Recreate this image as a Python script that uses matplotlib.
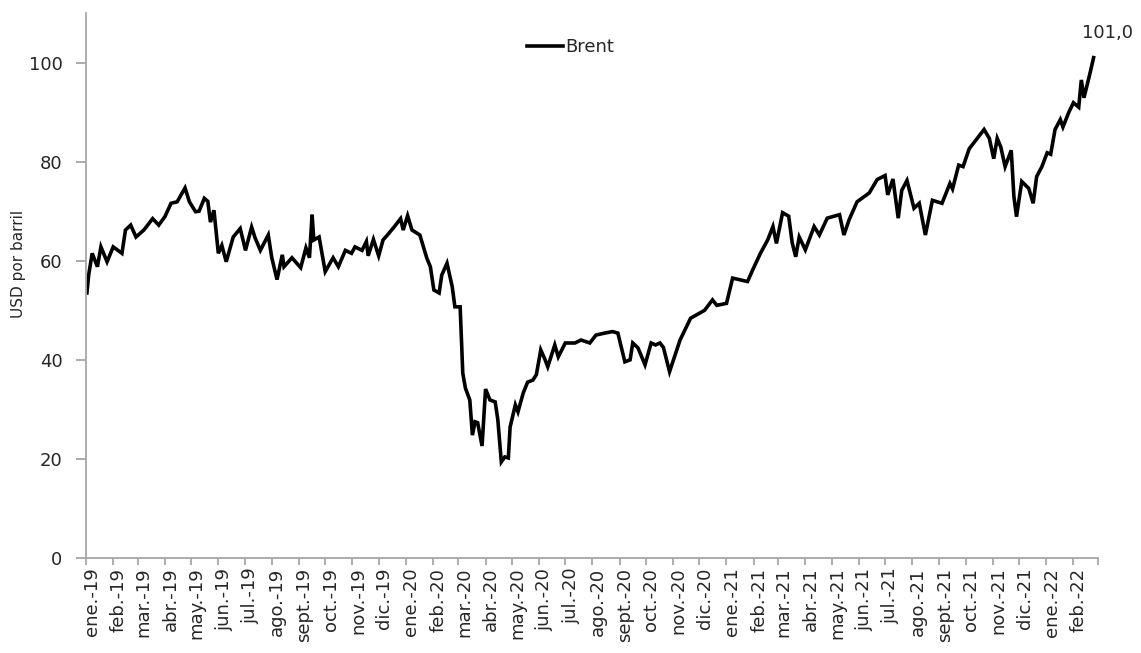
import matplotlib
matplotlib.use("Agg")
import matplotlib.pyplot as plt
from matplotlib.transforms import ScaledTranslation
import pandas as pd

# precio Brent (USD por barril)
fechas_2019 = ["2019-01-02", "2019-01-04", "2019-01-08", "2019-01-14", "2019-01-18", "2019-01-25",
               "2019-02-01", "2019-02-11", "2019-02-15", "2019-02-21", "2019-02-27", "2019-03-08",
               "2019-03-15", "2019-03-18", "2019-03-25", "2019-04-01", "2019-04-08", "2019-04-15",
               "2019-04-24", "2019-04-29", "2019-05-06", "2019-05-10", "2019-05-16", "2019-05-20",
               "2019-05-23", "2019-05-27", "2019-06-01", "2019-06-05", "2019-06-10", "2019-06-18",
               "2019-06-26", "2019-07-02", "2019-07-09", "2019-07-13", "2019-07-19", "2019-07-28",
               "2019-08-01", "2019-08-07", "2019-08-13", "2019-08-15", "2019-08-24", "2019-09-03",
               "2019-09-09", "2019-09-13", "2019-09-16", "2019-09-18", "2019-09-24", "2019-10-01",
               "2019-10-10", "2019-10-16", "2019-10-24", "2019-10-31", "2019-11-04", "2019-11-12",
               "2019-11-17", "2019-11-19", "2019-11-25", "2019-12-01", "2019-12-06", "2019-12-11",
               "2019-12-19", "2019-12-26", "2019-12-29"]
brent_2019 = [53.5, 57.1, 61.5, 58.8, 62.8, 59.8,
              62.8, 61.5, 66.2, 67.2, 64.8, 66.2,
              67.8, 68.5, 67.2, 68.9, 71.6, 71.9,
              74.7, 71.9, 69.9, 70.0, 72.6, 72.0,
              67.8, 70.2, 61.5, 63.1, 59.8, 64.8,
              66.5, 62.1, 66.8, 64.6, 62.1, 65.2,
              60.6, 56.2, 61.2, 58.8, 60.6, 58.6,
              62.6, 60.6, 69.3, 64.2, 64.8, 57.8,
              60.6, 58.8, 62.1, 61.5, 62.8, 62.1,
              63.9, 61.0, 64.3, 61.0, 64.2, 65.2,
              66.9, 68.5, 66.2]

fechas_2020 = ["2020-01-03", "2020-01-08", "2020-01-17", "2020-01-25", "2020-01-29", "2020-02-02",
               "2020-02-08", "2020-02-11", "2020-02-17", "2020-02-23", "2020-02-26", "2020-03-03",
               "2020-03-06", "2020-03-09", "2020-03-14", "2020-03-17", "2020-03-20", "2020-03-23",
               "2020-03-28", "2020-04-01", "2020-04-06", "2020-04-12", "2020-04-15", "2020-04-19",
               "2020-04-23", "2020-04-27", "2020-04-29", "2020-05-05", "2020-05-08", "2020-05-14",
               "2020-05-19", "2020-05-25", "2020-05-29", "2020-06-03", "2020-06-08", "2020-06-11",
               "2020-06-19", "2020-06-23", "2020-07-01", "2020-07-12", "2020-07-19", "2020-07-29",
               "2020-08-05", "2020-08-15", "2020-08-24", "2020-08-30", "2020-09-07", "2020-09-13",
               "2020-09-16", "2020-09-22", "2020-09-30", "2020-10-07", "2020-10-12", "2020-10-17",
               "2020-10-21", "2020-10-28", "2020-11-09", "2020-11-21", "2020-12-07", "2020-12-16",
               "2020-12-21"]
brent_2020 = [69.1, 66.2, 65.2, 60.5, 58.8, 54.1,
              53.5, 57.1, 59.5, 54.7, 50.7, 50.7,
              37.3, 34.3, 31.9, 24.8, 27.5, 27.3,
              22.6, 34.1, 31.9, 31.5, 27.9, 19.4,
              20.4, 20.2, 26.4, 30.9, 29.5, 33.3,
              35.5, 35.9, 37.0, 42.0, 40.0, 38.6,
              43.0, 40.6, 43.4, 43.4, 44.0, 43.4,
              45.0, 45.4, 45.7, 45.4, 39.6, 40.0,
              43.4, 42.4, 39.0, 43.4, 43.0, 43.4,
              42.5, 37.6, 44.0, 48.4, 50.0, 52.1,
              51.0]

fechas_2021 = ["2021-01-01", "2021-01-08", "2021-01-25", "2021-01-31", "2021-02-09", "2021-02-17",
               "2021-02-23", "2021-02-27", "2021-03-06", "2021-03-13", "2021-03-17", "2021-03-21",
               "2021-03-25", "2021-04-01", "2021-04-11", "2021-04-17", "2021-04-26", "2021-05-10",
               "2021-05-15", "2021-05-21", "2021-05-30", "2021-06-13", "2021-06-22", "2021-07-01",
               "2021-07-04", "2021-07-10", "2021-07-16", "2021-07-20", "2021-07-26", "2021-08-03",
               "2021-08-09", "2021-08-16", "2021-08-24", "2021-09-04", "2021-09-13", "2021-09-16",
               "2021-09-23", "2021-09-28", "2021-10-05", "2021-10-12", "2021-10-22", "2021-10-28",
               "2021-11-02", "2021-11-06", "2021-11-10", "2021-11-15", "2021-11-22", "2021-11-25",
               "2021-11-28", "2021-12-04", "2021-12-12", "2021-12-17", "2021-12-21", "2021-12-27"]
brent_2021 = [51.4, 56.5, 55.8, 58.2, 61.6, 64.2,
              66.9, 63.5, 69.7, 69.0, 63.6, 60.8,
              64.8, 62.2, 66.9, 65.2, 68.6, 69.3,
              65.2, 68.3, 71.9, 73.7, 76.4, 77.2,
              73.3, 76.5, 68.6, 74.2, 76.2, 70.6,
              71.6, 65.2, 72.2, 71.6, 75.6, 74.5,
              79.3, 79.0, 82.6, 84.2, 86.5, 84.7,
              80.6, 84.7, 83.0, 79.0, 82.3, 73.0,
              68.9, 76.0, 74.6, 71.6, 77.0, 79.0]

fechas_2022 = ["2022-01-02", "2022-01-06", "2022-01-11", "2022-01-17", "2022-01-20", "2022-01-27",
               "2022-02-01", "2022-02-07", "2022-02-10", "2022-02-13", "2022-02-19", "2022-02-24"]
brent_2022 = [81.8, 81.5, 86.5, 88.5, 87.0, 90.1,
              91.9, 91.0, 96.5, 92.9, 97.2, 101.0]

meses = ["ene.", "feb.", "mar.", "abr.", "may.", "jun.", "jul.", "ago.", "sept.", "oct.", "nov.", "dic."]

fechas = pd.to_datetime(fechas_2019 + fechas_2020 + fechas_2021 + fechas_2022)
brent = brent_2019 + brent_2020 + brent_2021 + brent_2022

plt.rcParams['font.family'] = ['DejaVu Sans']
gris = '#a6a6a6'
texto = '#262626'

fig = plt.figure(figsize=(11.41, 6.53), dpi=100)
ax = fig.add_axes([0.0754, 0.1455, 0.8869, 0.8345])

ax.plot(fechas, brent, color='black', lw=2.6, label='Brent', solid_joinstyle='miter')

ax.annotate(f"{brent[-1]:.1f}".replace('.', ','), xy=(fechas[-1], brent[-1]),
            xytext=(14, 25), textcoords='offset pixels', ha='center', va='center',
            fontsize=13, color=texto)

ax.set_ylim(0, 110)
ax.set_yticks(range(0, 101, 20))
ax.set_xlim(pd.Timestamp("2019-01-01"), pd.Timestamp("2022-03-01"))

ticks = pd.date_range("2019-01-01", "2022-03-01", freq="MS")
ax.set_xticks(ticks)
etiquetas = [f"{meses[t.month - 1]}-{t.year % 100:02d}" for t in ticks]
etiquetas[-1] = ""
ax.set_xticklabels(etiquetas, rotation=90)

for s in ['top', 'right']:
    ax.spines[s].set_visible(False)
for s in ['left', 'bottom']:
    ax.spines[s].set_color(gris)
    ax.spines[s].set_linewidth(1.3)

ax.tick_params(axis='x', colors=gris, labelcolor=texto, length=5, width=1.3, pad=2, labelsize=13)
ax.tick_params(axis='y', colors=gris, labelcolor=texto, length=7, width=1.3, pad=10, labelsize=13)

desplaza = ScaledTranslation(4 / 72, 0, fig.dpi_scale_trans)
for lab in ax.get_xticklabels():
    lab.set_transform(lab.get_transform() + desplaza)

ax.set_ylabel("USD por barril", fontsize=11, color=texto)
ax.yaxis.set_label_coords(-0.059, 0.54)

ax.legend(loc='center', bbox_to_anchor=(0.479, 0.938), frameon=False, fontsize=13,
          handlelength=2.0, handletextpad=0.1, labelcolor=texto)

fig.savefig("out.png", dpi=100)
